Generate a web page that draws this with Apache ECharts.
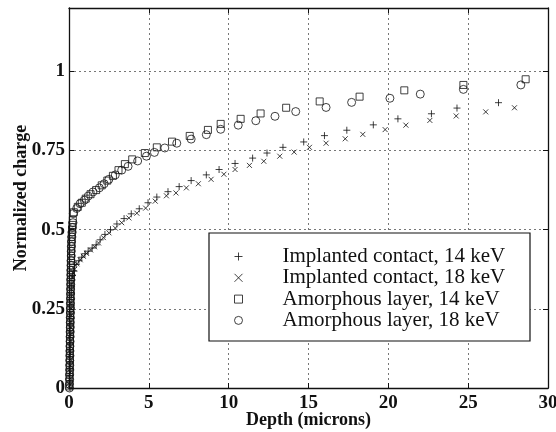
<!DOCTYPE html>
<html>
<head>
<meta charset="utf-8">
<script src="https://cdn.jsdelivr.net/npm/echarts@6/dist/echarts.min.js"></script>
<style>
html,body{margin:0;padding:0;background:#fff;}
#chart{width:556px;height:432px;}
</style>
</head>
<body>
<div id="chart"></div>
<script>
// ---- data (depth in microns, normalized charge) ----
var seriesNames = [
  'Implanted contact, 14 keV',
  'Implanted contact, 18 keV',
  'Amorphous layer, 14 keV',
  'Amorphous layer, 18 keV'
];
var xTicks = [0, 5, 10, 15, 20, 25, 30];
var yTicks = [0, 0.25, 0.5, 0.75, 1];

var implanted14 = [
  [0.06,0.0],[0.07,0.02],[0.07,0.04],[0.08,0.06],[0.08,0.08],[0.09,0.10],[0.09,0.12],[0.10,0.14],
  [0.10,0.16],[0.11,0.18],[0.11,0.20],[0.12,0.22],[0.12,0.24],[0.13,0.26],[0.14,0.28],[0.15,0.30],
  [0.16,0.32],[0.18,0.34],[0.22,0.355],[0.30,0.37],[0.45,0.39],[0.62,0.402],[0.8,0.413],[1.0,0.424],
  [1.2,0.432],[1.45,0.442],[1.7,0.452],[1.95,0.468],[2.25,0.485],[2.6,0.5],[3.0,0.518],[3.45,0.535],
  [3.9,0.55],[4.4,0.566],[4.95,0.585],[5.5,0.603],[6.2,0.62],[6.9,0.636],[7.65,0.655],[8.6,0.673],
  [9.4,0.69],[10.4,0.709],[11.5,0.726],[12.4,0.742],[13.4,0.76],[14.7,0.777],[16.0,0.797],[17.4,0.814],
  [19.06,0.831],[20.6,0.85],[22.7,0.866],[24.3,0.884],[26.9,0.901]
];
var implanted18 = [
  [0.07,0.01],[0.08,0.03],[0.08,0.05],[0.09,0.07],[0.09,0.09],[0.10,0.11],[0.10,0.13],[0.11,0.15],
  [0.11,0.17],[0.12,0.19],[0.12,0.21],[0.13,0.23],[0.14,0.25],[0.14,0.27],[0.15,0.29],[0.16,0.31],
  [0.18,0.33],[0.21,0.35],[0.26,0.362],[0.35,0.375],[0.5,0.392],[0.7,0.405],[0.9,0.416],[1.1,0.425],
  [1.35,0.436],[1.6,0.446],[1.85,0.458],[2.15,0.475],[2.5,0.49],[2.9,0.505],[3.3,0.522],[3.75,0.537],
  [4.25,0.552],[4.8,0.568],[5.4,0.59],[6.1,0.607],[6.7,0.616],[7.35,0.632],[8.1,0.645],[8.9,0.659],
  [9.7,0.675],[10.4,0.69],[11.3,0.703],[12.2,0.716],[13.2,0.732],[14.1,0.745],[15.06,0.76],[16.1,0.773],
  [17.3,0.787],[18.4,0.801],[19.8,0.816],[21.1,0.83],[22.6,0.845],[24.25,0.859],[26.1,0.872],[27.9,0.885]
];
var amorphous14 = [
  [0.02,0.005],[0.03,0.02],[0.03,0.035],[0.04,0.05],[0.04,0.065],[0.05,0.08],[0.05,0.095],[0.05,0.11],
  [0.06,0.125],[0.06,0.14],[0.06,0.155],[0.07,0.17],[0.07,0.185],[0.07,0.2],[0.08,0.215],[0.08,0.23],
  [0.08,0.245],[0.09,0.26],[0.09,0.275],[0.09,0.29],[0.1,0.305],[0.1,0.32],[0.1,0.335],[0.11,0.35],
  [0.11,0.365],[0.12,0.38],[0.12,0.395],[0.13,0.41],[0.13,0.425],[0.14,0.44],[0.15,0.455],[0.16,0.47],
  [0.17,0.485],[0.19,0.5],[0.21,0.515],[0.24,0.53],[0.3,0.555],[0.55,0.572],[0.8,0.585],[1.05,0.598],
  [1.35,0.612],[1.7,0.625],[2.05,0.64],[2.4,0.655],[2.75,0.67],[3.1,0.688],[3.5,0.707],[3.96,0.722],
  [4.75,0.742],[5.5,0.76],[6.45,0.778],[7.56,0.796],[8.7,0.815],[9.5,0.834],[10.75,0.85],[12.0,0.867],
  [13.6,0.885],[15.7,0.905],[18.2,0.92],[21.0,0.94],[24.7,0.957],[28.6,0.975]
];
var amorphous18 = [
  [0.03,0.0],[0.03,0.012],[0.04,0.027],[0.04,0.042],[0.05,0.057],[0.05,0.072],[0.05,0.087],[0.06,0.102],
  [0.06,0.117],[0.06,0.132],[0.07,0.147],[0.07,0.162],[0.07,0.177],[0.08,0.192],[0.08,0.207],[0.08,0.222],
  [0.09,0.237],[0.09,0.252],[0.09,0.267],[0.1,0.282],[0.1,0.297],[0.1,0.312],[0.11,0.327],[0.11,0.342],
  [0.12,0.357],[0.12,0.372],[0.13,0.387],[0.13,0.402],[0.14,0.417],[0.14,0.432],[0.15,0.447],[0.16,0.462],
  [0.18,0.477],[0.2,0.492],[0.22,0.507],[0.25,0.522],[0.27,0.551],[0.48,0.567],[0.69,0.582],[0.96,0.593],
  [1.2,0.606],[1.5,0.619],[1.9,0.632],[2.2,0.645],[2.5,0.659],[2.9,0.673],[3.3,0.688],[3.7,0.70],
  [4.3,0.717],[4.85,0.732],[5.35,0.744],[6.0,0.758],[6.75,0.773],[7.65,0.786],[8.6,0.80],[9.5,0.817],
  [10.6,0.83],[11.7,0.844],[12.9,0.858],[14.2,0.873],[16.1,0.886],[17.7,0.902],[20.1,0.915],[22.0,0.928],
  [24.7,0.943],[28.3,0.957]
];

var FONT = "'Liberation Serif','Times New Roman',serif";
var INK = '#111';
var PLUS = 'path://M0,5L10,5M5,0L5,10';
var CROSS = 'path://M0,0L10,10M10,0L0,10';

function mk(name, data, symbol, size) {
  return {
    name: name, type: 'scatter', data: data, symbol: symbol, symbolSize: size,
    itemStyle: {color: 'rgba(0,0,0,0)', borderColor: INK, borderWidth: 1},
    emphasis: {disabled: true}, animation: false
  };
}

var chart = echarts.init(document.getElementById('chart'), null, {renderer: 'canvas'});
var axisLineStyle = {color: INK, width: 1.3};
function gridLine() {
  return {show: true, lineStyle: {color: '#777', width: 1, type: [2, 3]}};
}
chart.setOption({
  backgroundColor: '#fff',
  animation: false,
  grid: {left: 69, right: 8, top: 8, bottom: 44, containLabel: false, outerBoundsMode: 'none'},
  xAxis: [{
    type: 'value', min: xTicks[0], max: xTicks[xTicks.length - 1], interval: 5,
    name: 'Depth (microns)', nameLocation: 'middle', nameGap: 23, nameMoveOverlap: false,
    nameTextStyle: {fontFamily: FONT, fontWeight: 'bold', fontSize: 18, color: INK},
    axisLine: {show: true, onZero: false, lineStyle: axisLineStyle},
    axisTick: {show: true, inside: true, length: 5, lineStyle: {color: INK}},
    axisLabel: {fontFamily: FONT, fontWeight: 'bold', fontSize: 19, color: INK, margin: 6},
    splitLine: gridLine()
  }, {
    type: 'value', position: 'top', min: 0, max: 30, interval: 5,
    axisLine: {show: true, onZero: false, lineStyle: axisLineStyle},
    axisTick: {show: true, inside: true, length: 5, lineStyle: {color: INK}},
    axisLabel: {show: false}, splitLine: {show: false}
  }],
  yAxis: [{
    type: 'value', min: 0, max: 1.2, interval: 0.25,
    name: 'Normalized charge', nameLocation: 'middle', nameGap: 39, nameMoveOverlap: false,
    nameTextStyle: {fontFamily: FONT, fontWeight: 'bold', fontSize: 18, color: INK},
    axisLine: {show: true, onZero: false, lineStyle: axisLineStyle},
    axisTick: {show: true, inside: true, length: 5, lineStyle: {color: INK}},
    axisLabel: {fontFamily: FONT, fontWeight: 'bold', fontSize: 19, color: INK, margin: 4, showMaxLabel: false,
      formatter: function (v) { return yTicks.indexOf(v) >= 0 ? String(v) : ''; }},
    splitLine: gridLine()
  }, {
    type: 'value', position: 'right', min: 0, max: 1.2, interval: 0.25,
    axisLine: {show: true, onZero: false, lineStyle: axisLineStyle},
    axisTick: {show: true, inside: true, length: 5, lineStyle: {color: INK}},
    axisLabel: {show: false}, splitLine: {show: false}
  }],
  legend: {
    orient: 'vertical', left: 234, top: 246, padding: 0, itemGap: 0.3,
    itemWidth: 8, itemHeight: 8, selectedMode: false,
    data: seriesNames,
    itemStyle: {color: 'rgba(0,0,0,0)', borderColor: INK, borderWidth: 1},
    textStyle: {fontFamily: FONT, fontSize: 21, color: INK, lineHeight: 21, padding: [0, 0, 0, 35]}
  },
  graphic: {elements: [{
    type: 'rect', z: 3, shape: {x: 209, y: 233, width: 321, height: 108},
    style: {fill: '#fff', stroke: INK, lineWidth: 1.2}, silent: true
  }]},
  series: [
    mk(seriesNames[0], implanted14, PLUS, 7),
    mk(seriesNames[1], implanted18, CROSS, 5),
    mk(seriesNames[2], amorphous14, 'rect', 7),
    mk(seriesNames[3], amorphous18, 'circle', 8)
  ]
});
</script>
</body>
</html>
